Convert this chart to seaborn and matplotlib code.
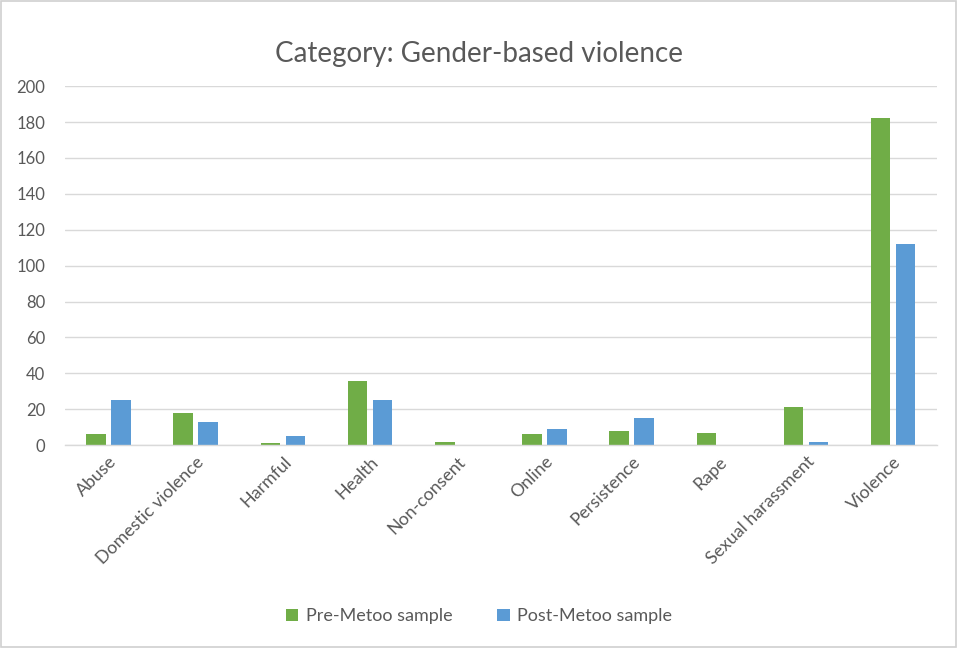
import matplotlib
matplotlib.use("Agg")
import matplotlib.pyplot as plt
import seaborn as sns
import pandas as pd
from matplotlib.patches import Rectangle

categories = ["Abuse", "Domestic violence", "Harmful", "Health", "Non-consent",
              "Online", "Persistence", "Rape", "Sexual harassment", "Violence"]
pre_metoo = [6, 18, 1, 36, 2, 6, 8, 7, 21, 182]
post_metoo = [25, 13, 5, 25, 0, 9, 15, 0, 2, 112]
series_names = ["Pre-Metoo sample", "Post-Metoo sample"]
y_ticks = [0, 20, 40, 60, 80, 100, 120, 140, 160, 180, 200]

df = pd.DataFrame({
    "Category": categories * 2,
    "Value": pre_metoo + post_metoo,
    "Series": [series_names[0]] * len(categories) + [series_names[1]] * len(categories),
})

sns.set_theme(style="white")
plt.rcParams["font.family"] = ["Lato", "DejaVu Sans"]

fig = plt.figure(figsize=(9.58, 6.48), dpi=100)
ax = fig.add_axes([0.0678, 0.313, 0.91, 0.554])

sns.barplot(data=df, x="Category", y="Value", hue="Series",
            palette=["#70AD47", "#5B9BD5"], width=0.573, gap=0.22,
            ax=ax, saturation=1, edgecolor="none")

ax.set_ylim(0, 200)
ax.set_yticks(y_ticks)
ax.yaxis.grid(True, color="#d9d9d9", linewidth=1)
ax.set_axisbelow(True)
for s in ["top", "right", "left"]:
    ax.spines[s].set_visible(False)
ax.spines["bottom"].set_color("#d9d9d9")
ax.spines["bottom"].set_linewidth(1)
ax.set_xlabel("")
ax.set_ylabel("")
ax.tick_params(axis="y", length=0, colors="#595959", labelsize=12, pad=14)
ax.tick_params(axis="x", length=0, colors="#595959", labelsize=12.8, pad=6)
plt.setp(ax.get_xticklabels(), rotation=45, ha="right", rotation_mode="anchor")

fig.suptitle("Category: Gender-based violence", y=0.937, fontsize=20, color="#595959")

handles, labels = ax.get_legend_handles_labels()
ax.legend_.remove()
fig.legend(handles, labels, loc="center", bbox_to_anchor=(0.5, 0.049), ncol=2,
           frameon=False, fontsize=13, handlelength=0.7, handleheight=0.7,
           columnspacing=2.5, handletextpad=0.4, labelcolor="#595959")

fig.patches.append(Rectangle((0.001, 0.001), 0.997, 0.997, transform=fig.transFigure,
                             fill=False, edgecolor="#d0d0d0", linewidth=1.2))

fig.savefig("out.png", dpi=100, facecolor="white")
